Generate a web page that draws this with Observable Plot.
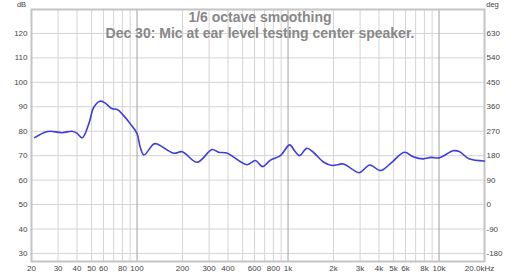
<!DOCTYPE html>
<html>
<head>
<meta charset="utf-8">
<script src="https://cdn.jsdelivr.net/npm/d3@7"></script>
<script src="https://cdn.jsdelivr.net/npm/@observablehq/plot@0.6"></script>
<style>
  html, body { margin: 0; padding: 0; background: #fff; }
</style>
</head>
<body>
<div id="chart"></div>
<script>
// Frequency response (Hz) and SPL (dB)
const freqs = [21, 24.8, 26.7, 31.9, 37.1, 40, 43.3, 47.9, 51.7, 56.8, 61, 67.9, 73.9, 79.6, 90.3, 100, 105, 111, 129, 136, 175, 199, 250, 314, 347, 393, 535, 608, 680, 764, 889, 1025, 1105, 1191, 1330, 1470, 1725, 1955, 2330, 2640, 2960, 3480, 4090, 4870, 5890, 6740, 7830, 8880, 10000, 12400, 13600, 15800, 20000];
const spl = [77.4, 79.7, 80.0, 79.4, 80.0, 79.2, 77.3, 83.0, 89.8, 92.3, 91.7, 89.3, 88.9, 87.1, 83.0, 79.0, 73.4, 70.3, 74.8, 74.8, 71.0, 71.6, 67.3, 72.5, 71.4, 71.1, 66.3, 68.0, 65.5, 68.2, 70.0, 74.4, 72.0, 70.0, 73.0, 71.4, 67.3, 66.0, 66.6, 64.6, 63.0, 66.2, 63.9, 67.3, 71.4, 69.6, 68.7, 69.3, 69.1, 72.0, 71.7, 68.7, 67.8];

const xTicks = [20, 30, 40, 50, 60, 80, 100, 200, 300, 400, 600, 800, 1000, 2000, 3000, 4000, 5000, 6000, 8000, 10000];
const xTickLabels = ["20", "30", "40", "50", "60", "80", "100", "200", "300", "400", "600", "800", "1k", "2k", "3k", "4k", "5k", "6k", "8k", "10k"];
const xLastTick = [20000];
const xLastLabel = "20.0kHz";
const minorGrid = [30, 40, 50, 60, 70, 80, 90, 200, 300, 400, 500, 600, 700, 800, 900, 2000, 3000, 4000, 5000, 6000, 7000, 8000, 9000];
const majorGrid = [100, 1000, 10000];
const dbTicks = [30, 40, 50, 60, 70, 80, 90, 100, 110, 120];
const degTicks = [-180, -90, 0, 90, 180, 270, 360, 450, 540, 630];
const titleLine1 = "1/6 octave smoothing";
const titleLine2 = "Dec 30: Mic at ear level testing center speaker.";
const leftLabel = "dB";
const rightLabel = "deg";

const data = freqs.map((f, i) => ({f, db: spl[i]}));
const xLab = xTicks.map((f, i) => ({f, label: xTickLabels[i]}));
const degOf = d => degTicks[dbTicks.indexOf(d)];

const font = "Liberation Sans, Arial, sans-serif";

const chart = Plot.plot({
  width: 521,
  height: 275,
  marginLeft: 31,
  marginRight: 37,
  marginTop: 9,
  marginBottom: 14,
  style: {fontFamily: font, color: "#444", background: "#fff", overflow: "visible"},
  x: {type: "log", domain: [20, 20000], axis: null},
  y: {domain: [26.7, 129.8]},
  marks: [
    Plot.ruleY(dbTicks, {stroke: "#d4d4d4", strokeWidth: 1}),
    Plot.ruleX(minorGrid, {stroke: "#d4d4d4", strokeWidth: 1}),
    Plot.ruleX(majorGrid, {stroke: "#a0a0a0", strokeWidth: 1}),
    Plot.frame({stroke: "#c4c4c4", strokeWidth: 2}),
    Plot.line(data, {x: "f", y: "db", stroke: "#3d3ddb", strokeWidth: 1.6, curve: "catmull-rom"}),
    Plot.axisY(dbTicks, {anchor: "left", tickSize: 0, tickPadding: 4, fontSize: 8, label: null}),
    Plot.axisY(dbTicks, {anchor: "right", tickSize: 0, tickPadding: 2, fontSize: 8, label: null, tickFormat: degOf}),
    Plot.text(xLab, {x: "f", text: "label", frameAnchor: "bottom", dy: 4, lineAnchor: "top", fontSize: 8, fill: "#444"}),
    Plot.text(xLastTick, {x: d => d, text: () => xLastLabel, frameAnchor: "bottom", dx: -5, dy: 4, lineAnchor: "top", fontSize: 8, fill: "#444"}),
    Plot.text([titleLine1], {frameAnchor: "top", dx: 2, dy: 12.5, lineAnchor: "bottom", fontSize: 14, fontWeight: "bold", fill: "#888"}),
    Plot.text([titleLine2], {frameAnchor: "top", dx: 2, dy: 28, lineAnchor: "bottom", fontSize: 14, fontWeight: "bold", fill: "#888"}),
    Plot.text([leftLabel], {frameAnchor: "top-left", dx: -10, dy: -3, lineAnchor: "bottom", textAnchor: "middle", fontSize: 7.5, fill: "#444"}),
    Plot.text([rightLabel], {frameAnchor: "top-right", dx: 8, dy: -3, lineAnchor: "bottom", textAnchor: "middle", fontSize: 7.5, fill: "#444"})
  ]
});
document.getElementById("chart").appendChild(chart);
</script>
</body>
</html>
